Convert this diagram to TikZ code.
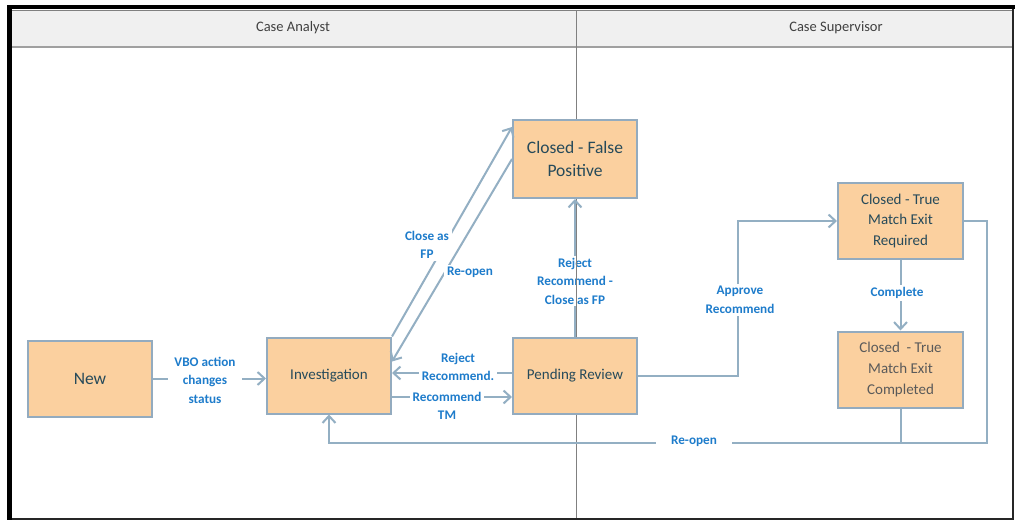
\documentclass[tikz,border=0pt]{standalone}
\usepackage{fontspec}
\setmainfont{Carlito}
\usetikzlibrary{arrows.meta,calc}
\definecolor{boxfill}{HTML}{FBD09F}
\definecolor{boxline}{HTML}{93ABBF}
\definecolor{arrowc}{HTML}{93AFC3}
\definecolor{boxtext}{HTML}{264A5A}
\definecolor{softtext}{HTML}{5A5A5A}
\definecolor{lblc}{HTML}{1E7CCB}
\definecolor{hdrfill}{HTML}{F0F0F0}
\definecolor{hdrtext}{HTML}{404040}
\definecolor{hdrline}{HTML}{A0A0A0}
\definecolor{divc}{HTML}{808080}
\begin{document}
\begin{tikzpicture}[x=1pt,y=-1pt,
  state/.style={draw=boxline, line width=2pt, fill=boxfill, text=boxtext, align=center,
    minimum width=124pt, minimum height=76pt, inner sep=2pt, font=\fontsize{15}{20.5}\selectfont},
  bigstate/.style={state, font=\fontsize{17.5}{23}\selectfont},
  flow/.style={draw=arrowc, line width=2pt, -{Straight Barb[length=7pt,width=13pt]}},
  plain/.style={draw=arrowc, line width=2pt},
  lbl/.style={fill=white, text=lblc, align=center, inner xsep=6pt, inner ysep=2pt,
    font=\fontsize{13.2}{18.5}\selectfont\bfseries},
  hdr/.style={text=hdrtext, font=\fontsize{14.5}{17}\selectfont},
  divider/.style={draw=divc, line width=1pt}]
\useasboundingbox (0,0) rectangle (1017,521);
% frame and header
\fill[white] (0,0) rectangle (1017,521);
\fill[hdrfill] (12,11) rectangle (1012,47);
\draw[divc, line width=1.2pt] (12,10.5) -- (1012,10.5);
\draw[hdrline, line width=2pt] (12,47) -- (1012,47);
\draw[divider] (576,11) -- (576,518);
\fill[black] (7,5) rectangle (1015,9);
\fill[black] (7,5) rectangle (12,520);
\draw[black!85, line width=2.2pt] (1013,9) -- (1013,519.5);
\draw[black!85, line width=2pt] (12,518.5) -- (1014,518.5);
\node[hdr] (h1) at (293,28) {Case Analyst};
\node[hdr] (h2) at (836,28) {Case Supervisor};
% states
\node[bigstate] (new) at (90,378.5) {New};
\node[state] (inv) at (329,375.5) {Investigation};
\node[bigstate, minimum height=78pt] (cfp) at (575,159) {Closed - False\\Positive};
\node[state] (pr) at (575,375.5) {Pending Review};
\node[state, minimum width=125pt] (etr) at (900.5,221) {Closed - True\\Match Exit\\Required};
\node[state, minimum width=125pt, text=softtext] (etc) at (900.5,369.5) {Closed\ \ - True\\Match Exit\\Completed};
% connectors
\draw[flow] (new.east) -- (new.east -| inv.west);
\node[lbl] (lvbo) at (205,380) {VBO action\\changes\\status};
\draw[flow] (inv.north east) -- ($(cfp.north west)+(0,8)$);
\node[lbl, inner xsep=3pt] (lcfp) at (427,245) {Close as\\FP};
\draw[flow] (cfp.west) -- ($(inv.north east)+(0,25)$);
\node[lbl, inner xsep=3pt] (lro1) at (470,272) {Re-open};
\draw[flow] ($(pr.west)+(0,-2.5)$) -- ($(inv.east)+(0,-2.5)$);
\node[lbl, inner xsep=3pt] (lrej) at (458,367) {Reject\\Recommend.};
\draw[flow] ($(inv.east)+(0,21.5)$) -- ($(pr.west)+(0,21.5)$);
\node[lbl, inner xsep=3pt] (lrtm) at (447,406) {Recommend\\TM};
\draw[flow] (pr.north) -- (cfp.south);
\node[lbl, inner xsep=3pt] (lrcf) at (575,281) {Reject\\Recommend -\\Close as FP};
\draw[divider] (lrcf.north -| 576,0) -- (lrcf.south -| 576,0);
\coordinate (apv) at (738,221);
\draw[flow] (pr.east) -| (apv) -- (etr.west);
\node[lbl, inner xsep=3pt] (lapv) at (740,300) {Approve\\Recommend};
\draw[flow] (etr.south) -- (etc.north);
\node[lbl, inner xsep=3pt] (lcmp) at (897,293) {Complete};
\coordinate (ro1) at (987,221);
\coordinate (ro2) at (987,443);
\coordinate (ro3) at (329,443);
\draw[flow] (etr.east) -- (ro1) -- (ro2) -- (ro3) -- (inv.south);
\draw[plain] (etc.south) -- (etc.south |- ro2);
\node[lbl, inner xsep=15pt] (lro2) at (694,441) {Re-open};
\end{tikzpicture}
\end{document}
